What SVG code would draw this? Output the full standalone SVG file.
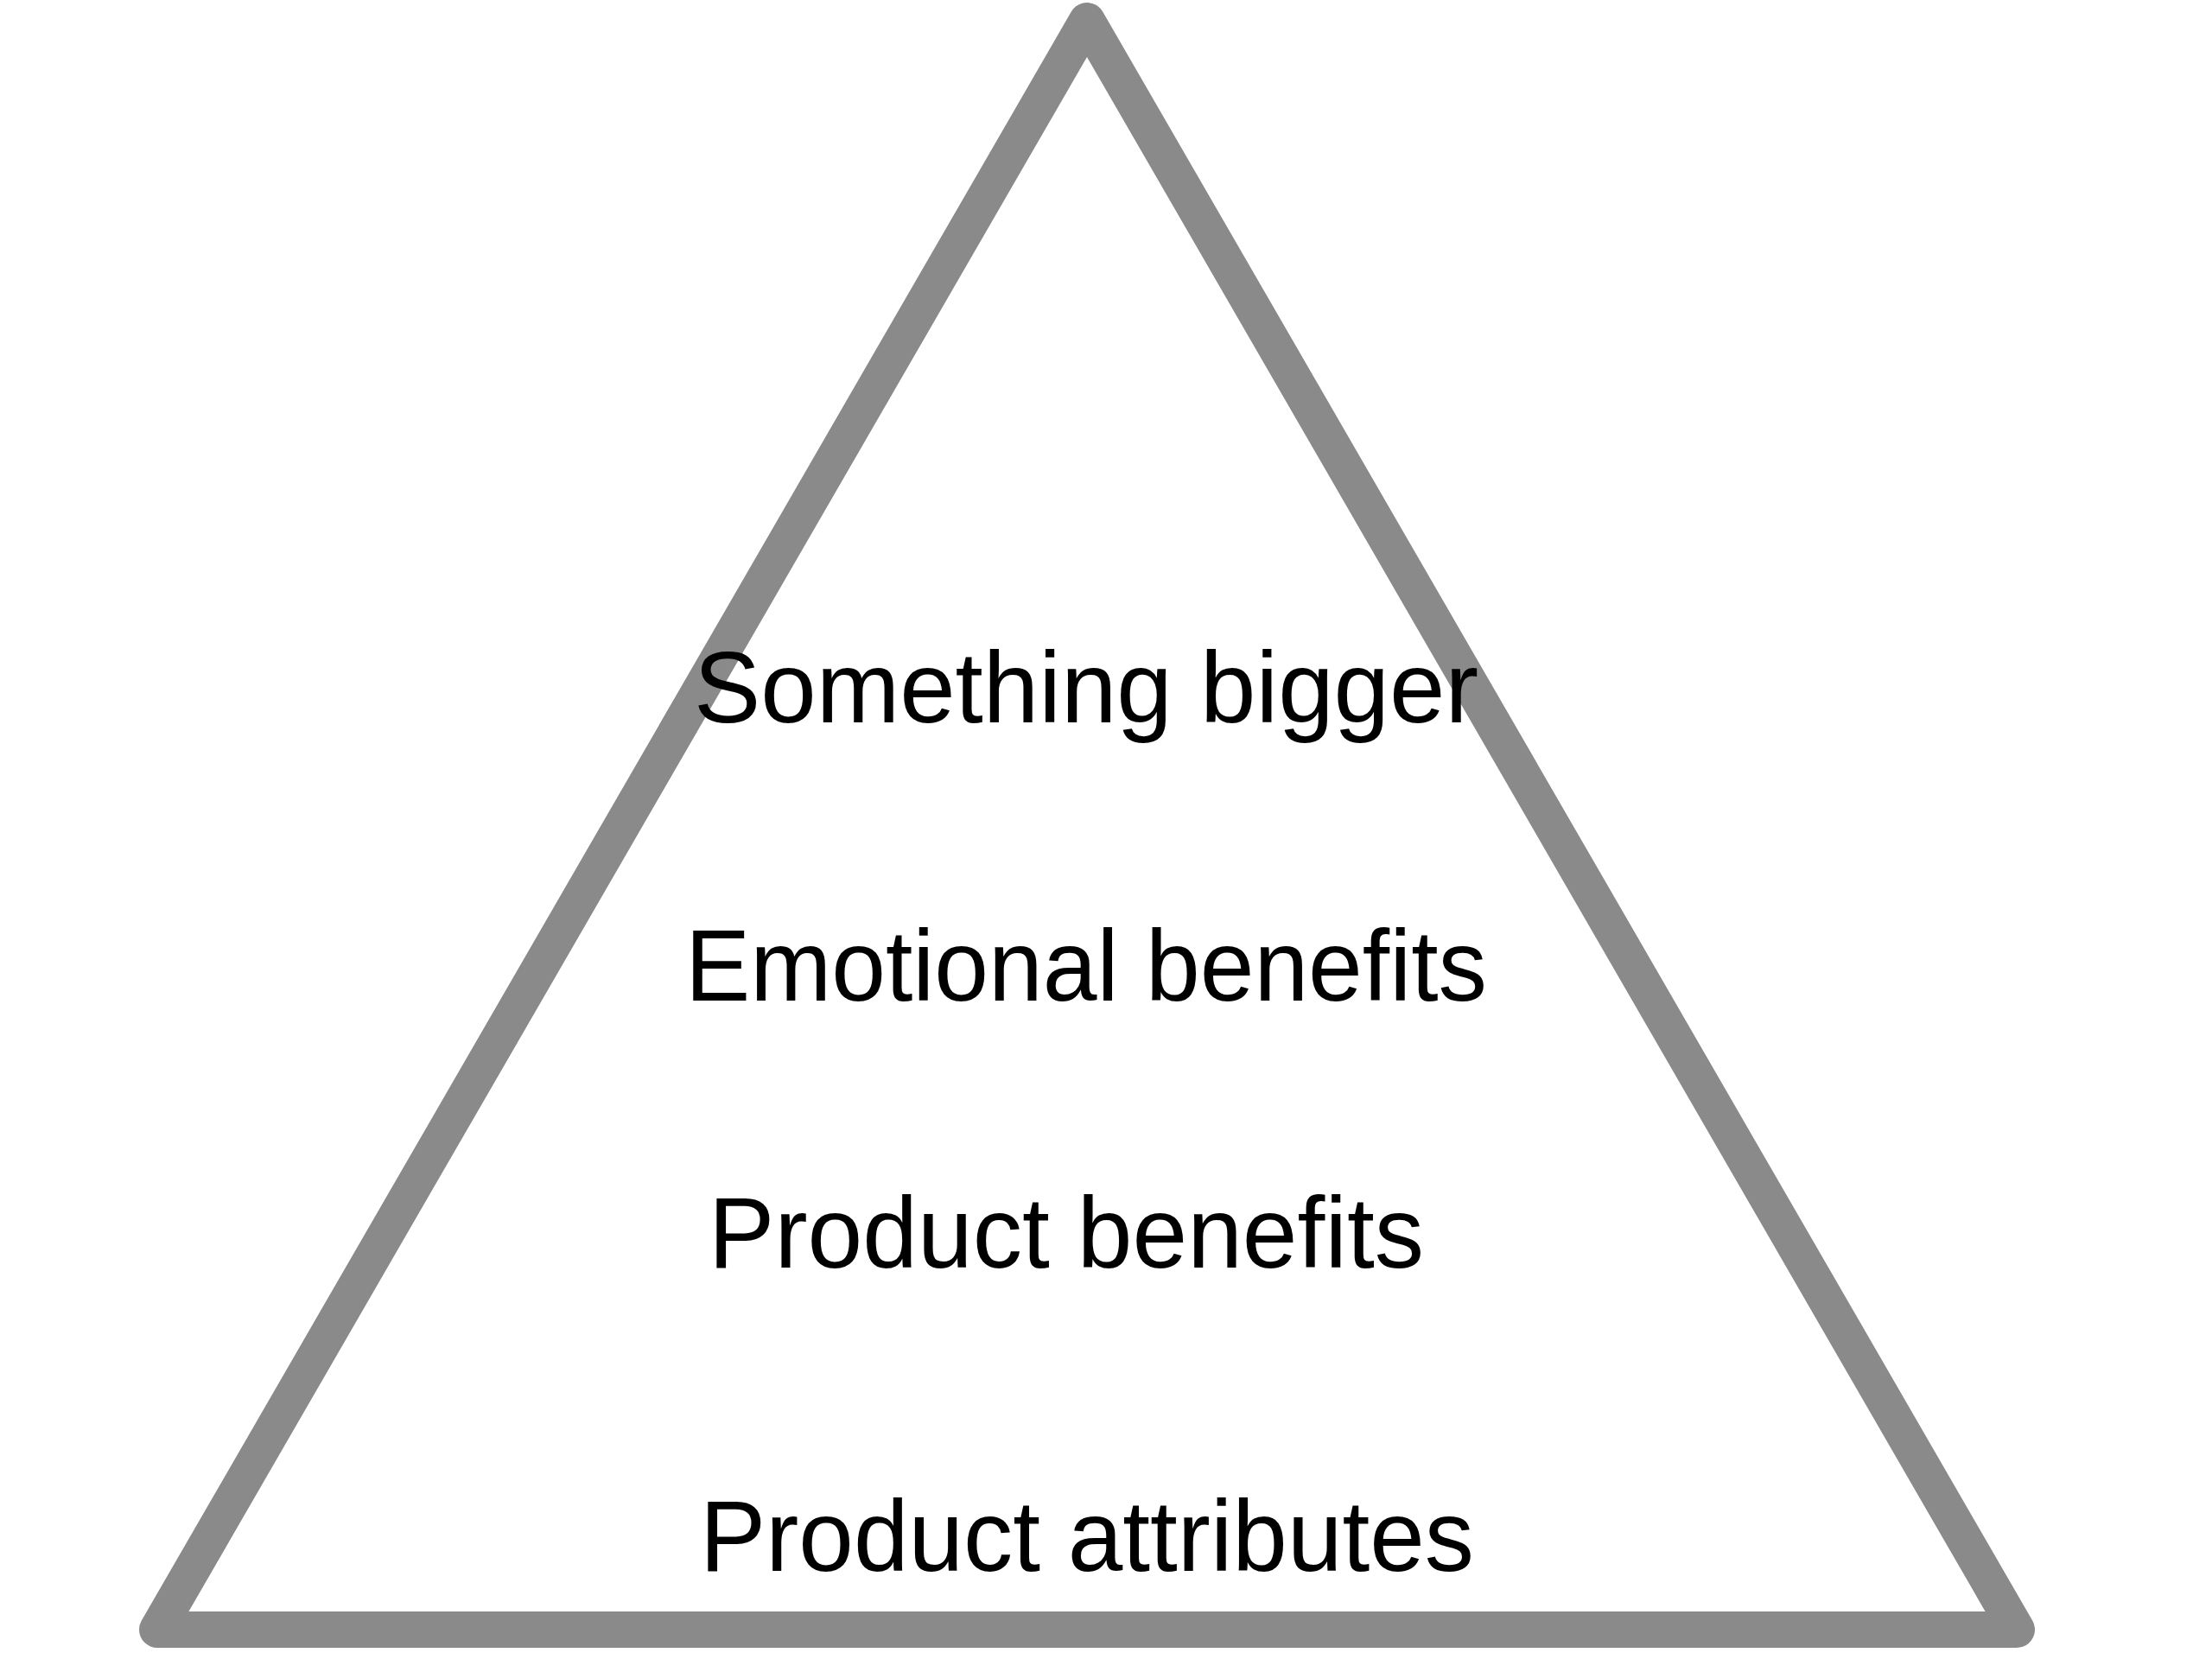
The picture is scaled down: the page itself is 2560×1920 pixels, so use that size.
<svg xmlns="http://www.w3.org/2000/svg" width="2560" height="1920" viewBox="0 0 2560 1920">
<style>
.lbl{font-family:"Liberation Sans",Arial,Helvetica,sans-serif;font-size:116px;fill:#000}
.tri{fill:none;stroke:#8a8a8a;stroke-width:42;stroke-linejoin:round}
</style>
<rect width="2560" height="1920" fill="#fff"/>
<g id="pyramid">
<polygon class="tri" points="1258,24 2334,1886 182,1886"/>
</g>
<g id="connectors"/>
<g id="level-something-bigger"><text class="lbl" x="803" y="836" textLength="908" lengthAdjust="spacingAndGlyphs">Something bigger</text></g>
<g id="level-emotional-benefits"><text class="lbl" x="793" y="1158" textLength="928" lengthAdjust="spacingAndGlyphs">Emotional benefits</text></g>
<g id="level-product-benefits"><text class="lbl" x="820" y="1467" textLength="828" lengthAdjust="spacingAndGlyphs">Product benefits</text></g>
<g id="level-product-attributes"><text class="lbl" x="810" y="1818" textLength="896" lengthAdjust="spacingAndGlyphs">Product attributes</text></g>
</svg>
